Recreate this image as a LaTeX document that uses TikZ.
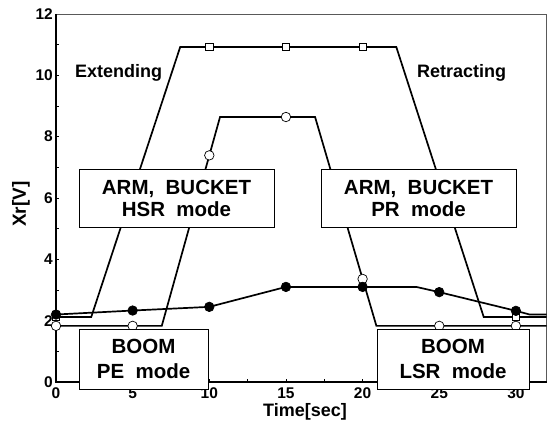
\documentclass[tikz,border=0pt]{standalone}
\usepackage{fontspec}
\setmainfont{Liberation Sans}
\newcommand\myfs[2]{\fontsize{#1}{#2}\selectfont\bfseries}
\begin{document}
\begin{tikzpicture}[x=15.33pt,y=30.67pt,
  dataline/.style={line width=1.7pt,line join=miter},
  ocirc/.style={circle,draw=black,fill=white,line width=0.7pt,minimum size=9.5pt,inner sep=0pt},
  fcirc/.style={circle,draw=black,fill=black,line width=0.7pt,minimum size=9.5pt,inner sep=0pt},
  sqmark/.style={rectangle,draw=black,fill=white,line width=0.7pt,minimum size=7.5pt,inner sep=0pt},
  modebox/.style={rectangle,draw=black,fill=white,line width=0.8pt,align=center,inner sep=0pt},
  ticklab/.style={font=\myfs{15.5}{17},inner sep=0pt},
  axlab/.style={font=\myfs{18}{20},inner sep=0pt}]
\useasboundingbox (-56pt,-43pt) rectangle (493pt,382pt);
% frame
\draw[line width=0.9pt,gray!70!black] (0,12) -- (32,12) -- (32,0);
\draw[line width=1.2pt] (0,12) -- (0,0) -- (32,0);
\foreach \yy in {1,...,11} \draw[line width=0.6pt] (0,\yy) -- ++(3pt,0);
\foreach \xx in {2.5,5,...,30} \draw[line width=0.6pt] (\xx,0) -- ++(0,3pt);
% tick labels
\foreach \yy in {0,2,...,12} \node[ticklab,anchor=east] (yl\yy) at ([xshift=-3pt]0,\yy) {\yy};
\foreach \xx in {0,5,...,30} \node[ticklab] (xl\xx) at ([yshift=-11pt]\xx,0) {\xx};
\node[axlab] (xlab) at (16.24,-0.98) {Time[sec]};
\node[axlab,rotate=90,font=\myfs{19}{20}] (ylab) at (-2.28,5.8) {Xr[V]};
% data lines
\draw[dataline] (0,2.12) -- (2.3,2.12) -- (8.1,10.92) -- (22.2,10.92) -- (27.9,2.12) -- (32,2.12);
\draw[dataline] (0,1.83) -- (6.9,1.83) -- (10.7,8.64) -- (16.9,8.64) -- (20.9,1.83) -- (32,1.83);
\draw[dataline] (0,2.2) -- (5,2.33) -- (10,2.45) -- (15,3.1) -- (20,3.1) -- (23.5,3.1) -- (25,2.93) -- (30,2.32) -- (30.9,2.2) -- (32,2.2);
% markers
\node[sqmark] (s0) at (0,2.12) {};
\node[sqmark] (s10) at (10,10.92) {};
\node[sqmark] (s15) at (15,10.92) {};
\node[sqmark] (s20) at (20,10.92) {};
\node[sqmark] (s30) at (30,2.12) {};
\node[ocirc] (o0) at (0,1.83) {};
\node[ocirc] (o5) at (5,1.83) {};
\node[ocirc] (o10) at (10,7.39) {};
\node[ocirc] (o15) at (15,8.64) {};
\node[ocirc] (o20) at (20,3.36) {};
\node[ocirc] (o25) at (25,1.83) {};
\node[ocirc] (o30) at (30,1.83) {};
\node[fcirc] (f0) at (0,2.2) {};
\node[fcirc] (f5) at (5,2.33) {};
\node[fcirc] (f10) at (10,2.45) {};
\node[fcirc] (f15) at (15,3.1) {};
\node[fcirc] (f20) at (20,3.1) {};
\node[fcirc] (f25) at (25,2.93) {};
\node[fcirc] (f30) at (30,2.32) {};
% mode boxes
\node[modebox,minimum width=195pt,minimum height=58pt,font=\myfs{20.5}{22}] (hsr) at (7.86,6.0) {ARM,~~BUCKET\\HSR~~mode};
\node[modebox,minimum width=195pt,minimum height=58pt,font=\myfs{20.5}{22}] (pr) at (23.65,6.0) {ARM,~~BUCKET\\PR~~mode};
\node[modebox,minimum width=129pt,minimum height=60pt,font=\myfs{20.5}{25}] (pe) at (5.71,0.75) {BOOM\\PE~~mode};
\node[modebox,minimum width=152pt,minimum height=60pt,font=\myfs{20.5}{25}] (lsr) at (25.9,0.75) {BOOM\\LSR~~mode};
% phase labels
\node[axlab,anchor=base west] (ext) at (1.24,9.93) {Extending};
\node[axlab,anchor=base west] (ret) at (23.55,9.93) {Retracting};
\end{tikzpicture}
\end{document}
